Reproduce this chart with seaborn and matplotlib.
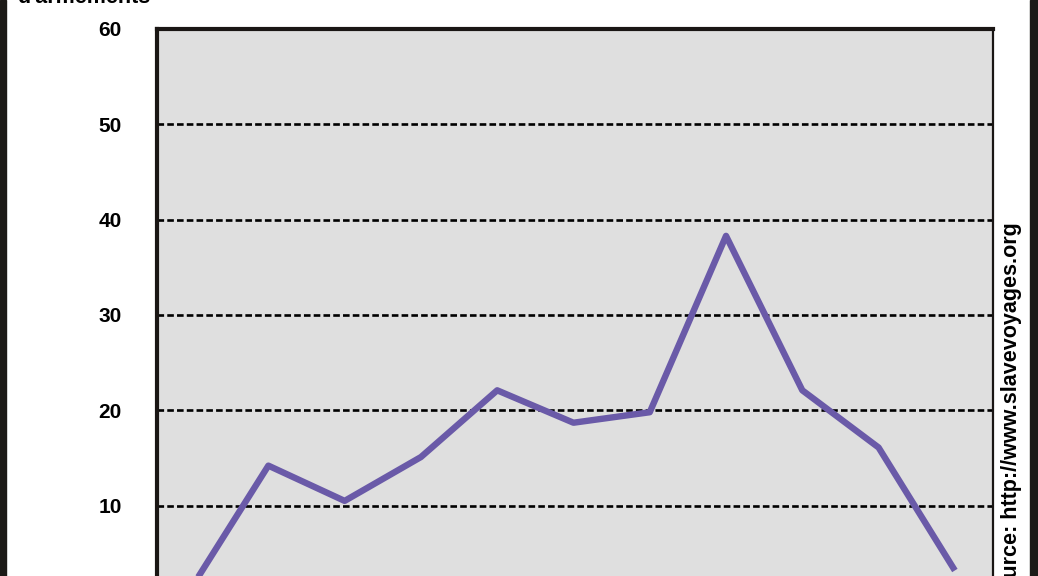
import matplotlib
matplotlib.use("Agg")
import matplotlib.pyplot as plt
from matplotlib.patches import Rectangle
import seaborn as sns
import pandas as pd

# data (x labels are cut off below the frame)
periodes = list(range(11))
armements = [1.5, 14.2, 10.5, 15.1, 22.1, 18.7, 19.8, 38.3, 22.1, 16.1, 3.2]
y_ticks = [0, 10, 20, 30, 40, 50, 60]

df = pd.DataFrame({"periode": periodes, "armements": armements})

sns.set_style("white")
plt.rcParams['font.family'] = ['Liberation Sans', 'DejaVu Sans']
plt.rcParams['text.color'] = 'black'
plt.rcParams['ytick.labelcolor'] = 'black'

fig = plt.figure(figsize=(10.38, 5.76), dpi=100)
ax = fig.add_axes([157 / 1038, -25 / 576, 836 / 1038, 572 / 576])
ax.set_facecolor("#dfdfdf")

sns.lineplot(data=df, x="periode", y="armements", ax=ax,
             color="#6a5aa8", linewidth=4.6, solid_capstyle="butt", zorder=3)

ax.set_ylim(0, 60)
ax.set_xlim(-0.46, 10.5)
ax.set_yticks(y_ticks)
ax.set_xticks([])
ax.set_xlabel("")
ax.set_ylabel("")
ax.yaxis.grid(True, color="black", linestyle=(0, (2.5, 1.2)), linewidth=1.9)
ax.set_axisbelow(True)
ax.tick_params(axis="y", direction="out", length=6.5, width=1.9, color="black",
               pad=19, labelsize=15, labelcolor="black")
for lab in ax.get_yticklabels():
    lab.set_fontweight("bold")

ax.spines["left"].set_linewidth(3)
ax.spines["top"].set_linewidth(3)
ax.spines["right"].set_linewidth(1.6)
for s in ["left", "top", "right"]:
    ax.spines[s].set_color("#1a1614")

fig.text(17 / 1038, 1 - 3 / 576, "d'armements", fontsize=15.5, fontweight="bold",
         ha="left", va="baseline", color="black")
fig.text(1011 / 1038, 1 - 222 / 576, "Source: http://www.slavevoyages.org",
         rotation=90, fontsize=15.5, fontweight="bold", ha="center", va="top",
         color="black")

# dark frame on both sides
fig.patches.append(Rectangle((0, 0), 6 / 1038, 1, transform=fig.transFigure,
                             color="#1c1a17", zorder=10))
fig.patches.append(Rectangle((1 - 8 / 1038, 0), 8 / 1038, 1, transform=fig.transFigure,
                             color="#1c1a17", zorder=10))

fig.savefig("out.png", dpi=100)
